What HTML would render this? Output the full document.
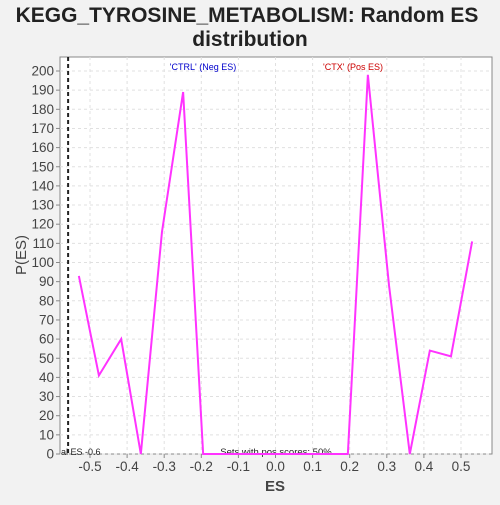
<!DOCTYPE html>
<html><head><meta charset="utf-8"><style>
body{margin:0;background:#f2f2f2;font-family:"Liberation Sans",sans-serif;}
</style></head><body>
<svg width="500" height="500" xmlns="http://www.w3.org/2000/svg">
<rect width="500" height="500" fill="#f2f2f2"/>
<text x="247" y="22" text-anchor="middle" font-size="21" font-weight="bold" fill="#222">KEGG_TYROSINE_METABOLISM: Random ES</text>
<text x="250" y="46" text-anchor="middle" font-size="21" font-weight="bold" fill="#222">distribution</text>
<rect x="60" y="57" width="432" height="397" fill="#fff" stroke="#888"/>
<g id="grid"></g><g id="axes"></g>
<text x="275" y="491" text-anchor="middle" font-size="15" font-weight="bold" fill="#444">ES</text>
<text x="26" y="255" text-anchor="middle" font-size="15" fill="#444" transform="rotate(-90 26 255)">P(ES)</text>
<text x="203" y="70" text-anchor="middle" font-size="9" fill="#0000cc">'CTRL' (Neg ES)</text>
<text x="353" y="70" text-anchor="middle" font-size="9" fill="#cc0000">'CTX' (Pos ES)</text>
<text x="276" y="455" text-anchor="middle" font-size="9.5" fill="#222">Sets with pos scores: 50%</text>
<text x="61" y="455" font-size="9" fill="#222">al ES -0.6</text>
<line id="esline" stroke="#222" stroke-width="2" stroke-dasharray="4,3"/>
<polyline id="series" fill="none" stroke="#ff33ff" stroke-width="2"/>
</svg>
<script>
const esX = [-0.53,-0.476,-0.416,-0.363,-0.306,-0.249,-0.195,0.195,0.249,0.306,0.362,0.416,0.473,0.53];
const pVals = [93,41,60,0,116,189,0,0,198,88,0,54,51,111];
const xTicks = [-0.5,-0.4,-0.3,-0.2,-0.1,0.0,0.1,0.2,0.3,0.4,0.5];
const yTicks = [0,10,20,30,40,50,60,70,80,90,100,110,120,130,140,150,160,170,180,190,200];
const actualES = -0.559;
const xS = v => 275.5 + v*371;
const yS = v => 454 - v*1.915;
const NS="http://www.w3.org/2000/svg";
const grid=document.getElementById('grid'), axes=document.getElementById('axes');
function mk(tag,attrs,parent){const e=document.createElementNS(NS,tag);for(const k in attrs)e.setAttribute(k,attrs[k]);parent.appendChild(e);return e;}
yTicks.forEach(t=>{
  const y=yS(t);
  const g=mk('line',{x1:60,x2:492,y1:y,y2:y,stroke:'#e0e0e0','stroke-dasharray':'3,3'},grid);
  
  
  mk('line',{x1:56,x2:60,y1:y,y2:y,stroke:'#888'},axes);
  const tx=mk('text',{x:54,y:y+4.5,'text-anchor':'end','font-size':13.5,fill:'#444'},axes);
  tx.textContent=t;
  
  
});
xTicks.forEach(t=>{
  const x=xS(t);
  const g=mk('line',{x1:x,x2:x,y1:57,y2:454,stroke:'#e0e0e0','stroke-dasharray':'3,3'},grid);
  
  
  mk('line',{x1:x,x2:x,y1:454,y2:458,stroke:'#888'},axes);
  const tx=mk('text',{x:x,y:471,'text-anchor':'middle','font-size':13.5,fill:'#444'},axes);
  tx.textContent=t.toFixed(1);
  
  
});
document.getElementById('series').setAttribute('points',esX.map((v,i)=>xS(v)+','+yS(pVals[i])).join(' '));
const el=document.getElementById('esline');
el.setAttribute('x1',xS(actualES));el.setAttribute('x2',xS(actualES));el.setAttribute('y1',57);el.setAttribute('y2',454);
</script>
</body></html>
